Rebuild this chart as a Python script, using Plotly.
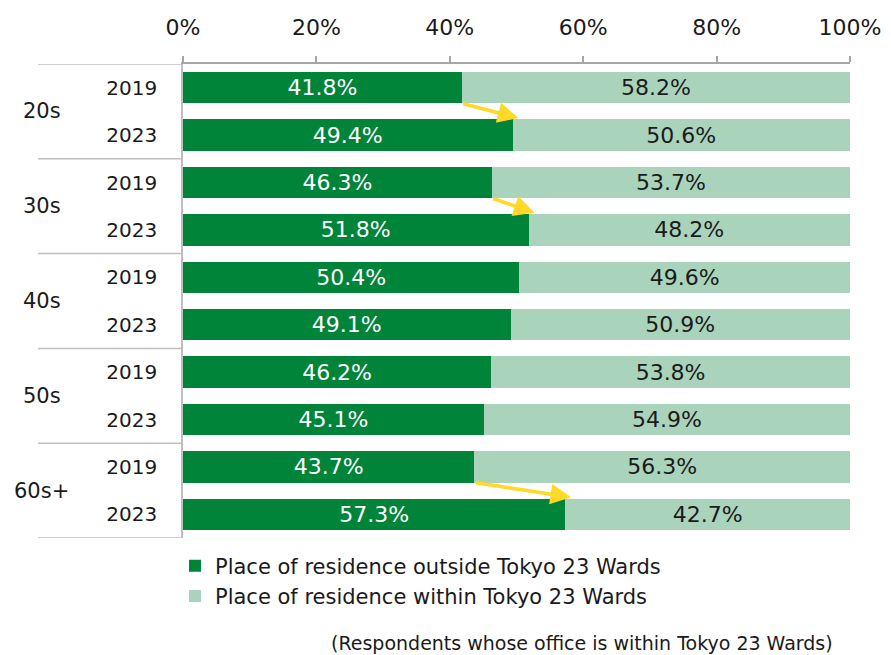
import plotly.graph_objects as go

groups = ["20s", "30s", "40s", "50s", "60s+"]
years = ["2019", "2023"]
outside = [41.8, 49.4, 46.3, 51.8, 50.4, 49.1, 46.2, 45.1, 43.7, 57.3]
within = [58.2, 50.6, 53.7, 48.2, 49.6, 50.9, 53.8, 54.9, 56.3, 42.7]
arrow_groups = [0, 1, 4]  # groups with highlighted increase
x_ticks = [0, 20, 40, 60, 80, 100]

FONT = "Verdana, DejaVu Sans, sans-serif"
DARK = "#00843A"
LIGHT = "#AAD3BC"
GREY = "#A6A6A6"

n = len(outside)
rows = list(range(n))
row_years = [years[i % 2] for i in rows]

fig = go.Figure()
fig.add_trace(go.Bar(
    y=rows, x=outside, orientation="h", marker_color=DARK, marker_line_width=0,
    name="Place of residence outside Tokyo 23 Wards", legendgroup="a",
    text=[f"{v:.1f}%" for v in outside], textposition="inside",
    insidetextanchor="middle", textfont=dict(color="white", size=22, family=FONT),
    constraintext="none", hoverinfo="skip",
))
fig.add_trace(go.Bar(
    y=rows, x=within, orientation="h", marker_color=LIGHT, marker_line_width=0,
    name="Place of residence within Tokyo 23 Wards", legendgroup="b",
    text=[f"{v:.1f}%" for v in within], textposition="inside",
    insidetextanchor="middle", textfont=dict(color="#1a1a1a", size=22, family=FONT),
    constraintext="none", hoverinfo="skip",
))

half = 0.33
annotations = []
for g in arrow_groups:
    i0, i1 = 2 * g, 2 * g + 1
    annotations.append(dict(
        x=outside[i1] + 0.9, y=i1 - half - 0.03, ax=outside[i0], ay=i0 + half,
        xref="x", yref="y", axref="x", ayref="y", text="", showarrow=True,
        arrowhead=2, arrowsize=1.15, arrowwidth=3.6, arrowcolor="#FFD828", standoff=0,
    ))

for gi, g in enumerate(groups):
    annotations.append(dict(
        x=-0.2114, y=2 * gi + 0.5, xref="paper", yref="y", text=g, showarrow=False,
        xanchor="center", yanchor="middle", font=dict(size=21, family=FONT, color="#1a1a1a"),
    ))

annotations.append(dict(
    x=0.9775, y=-0.222, xref="paper", yref="paper", showarrow=False,
    text="(Respondents whose office is within Tokyo 23 Wards)", xanchor="right", yanchor="middle",
    font=dict(size=19, family=FONT, color="#1a1a1a"),
))

shapes = []
for k in range(len(groups) + 1):
    yv = 2 * k - 0.5
    shapes.append(dict(type="line", xref="paper", yref="y", x0=-0.2174, x1=0, y0=yv, y1=yv,
                       line=dict(color="#BFBFBF", width=1.5)))

fig.update_layout(
    barmode="stack", bargap=0.34,
    width=883, height=647,
    margin=dict(l=175, r=41, t=56, b=117, autoexpand=False),
    plot_bgcolor="white", paper_bgcolor="white",
    font=dict(family=FONT, size=20, color="#1a1a1a"),
    xaxis=dict(side="top", range=[0, 100], tickvals=x_ticks, ticktext=[f"{v}%" for v in x_ticks],
               showgrid=False, zeroline=False, showline=True, linecolor=GREY, linewidth=1.5,
               ticks="outside", ticklen=6, tickcolor=GREY, tickwidth=1.5, automargin=False,
               tickfont=dict(size=22, family=FONT, color="#1a1a1a"), ticklabelstandoff=12),
    yaxis=dict(range=[n - 0.5, -0.5], tickvals=rows, ticktext=row_years, showgrid=False,
               zeroline=False, showline=True, linecolor="#BFBFBF", linewidth=1.5, automargin=False,
               tickfont=dict(size=20, family=FONT, color="#1a1a1a"), ticklabelstandoff=20),
    legend=dict(orientation="v", x=-0.012, y=-0.016, xanchor="left", yanchor="top",
                traceorder="grouped", tracegroupgap=0, font=dict(size=21, family=FONT, color="#1a1a1a"),
                bgcolor="rgba(0,0,0,0)"),
    showlegend=True,
    annotations=annotations, shapes=shapes,
)

fig.write_html("out.html")
